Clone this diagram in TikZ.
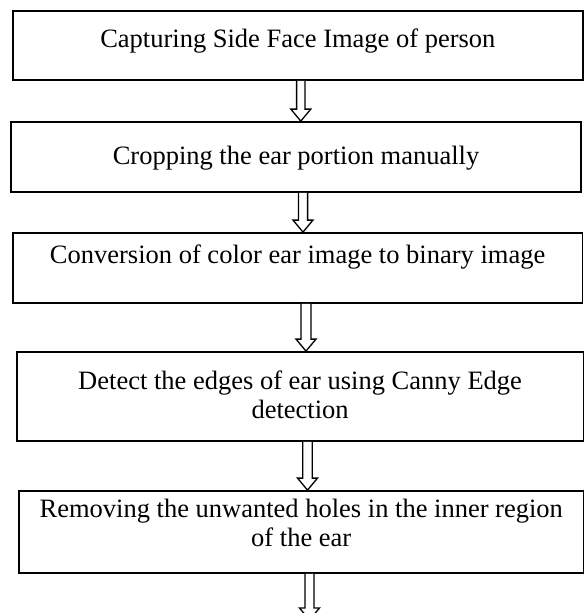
\documentclass[tikz,border=0pt]{standalone}
\usepackage{fontspec}
\setmainfont{Liberation Serif}
\usetikzlibrary{calc}
\tikzset{
  stepbox/.style={draw=black, line width=1.8pt, inner sep=0pt, fill=white},
  steptext/.style={inner sep=0pt, anchor=base, align=center,
    font=\fontsize{26.5}{29}\selectfont},
  blockarrow/.style={draw=black, line width=1.3pt, fill=white, line join=miter}
}
% #1 centre x, #2 start node, #3 end node, #4 half shaft width
\newcommand{\blkarrow}[4]{%
  \draw[blockarrow] let \p1=(#2.south), \p2=(#3.north) in
    ({#1-#4},\y1) -- ({#1-#4},\y2+12pt) -- ({#1-10},\y2+12pt) -- (#1,\y2)
    -- ({#1+10},\y2+12pt) -- ({#1+#4},\y2+12pt) -- ({#1+#4},\y1);}
\begin{document}
\begin{tikzpicture}[x=1pt,y=-1pt]
\useasboundingbox (0,0) rectangle (584,613);
\clip (0,0) rectangle (584,613);
\fill[white] (0,0) rectangle (584,613);

\node[stepbox, minimum width=570.3pt, minimum height=69pt] (b1) at (297.85,45.5) {};
\node[stepbox, minimum width=570pt, minimum height=70pt] (b2) at (296,157) {};
\node[stepbox, minimum width=569.8pt, minimum height=70pt] (b3) at (297.6,268) {};
\node[stepbox, minimum width=566.8pt, minimum height=89pt] (b4) at (300.1,396.5) {};
\node[stepbox, minimum width=564.5pt, minimum height=82pt] (b5) at (301.25,532) {};
\coordinate (e6) at (309.5,620);

\node[steptext] (t1) at (297.85,47) {Capturing Side Face Image of person};
\node[steptext] (t2) at (296,164) {Cropping the ear portion manually};
\node[steptext] (t3) at (297.6,263) {Conversion of color ear image to binary image};
\node[steptext] (t4) at (300.1,418) {Detect the edges of ear using Canny Edge\\detection};
\node[steptext] (t5) at (301.25,546) {Removing the unwanted holes in the inner region\\of the ear};

\blkarrow{300.8}{b1}{b2}{4.2}
\blkarrow{303}{b2}{b3}{4.6}
\blkarrow{306}{b3}{b4}{5}
\blkarrow{307.5}{b4}{b5}{4.8}
\blkarrow{309.5}{b5}{e6}{4.5}
\end{tikzpicture}
\end{document}
